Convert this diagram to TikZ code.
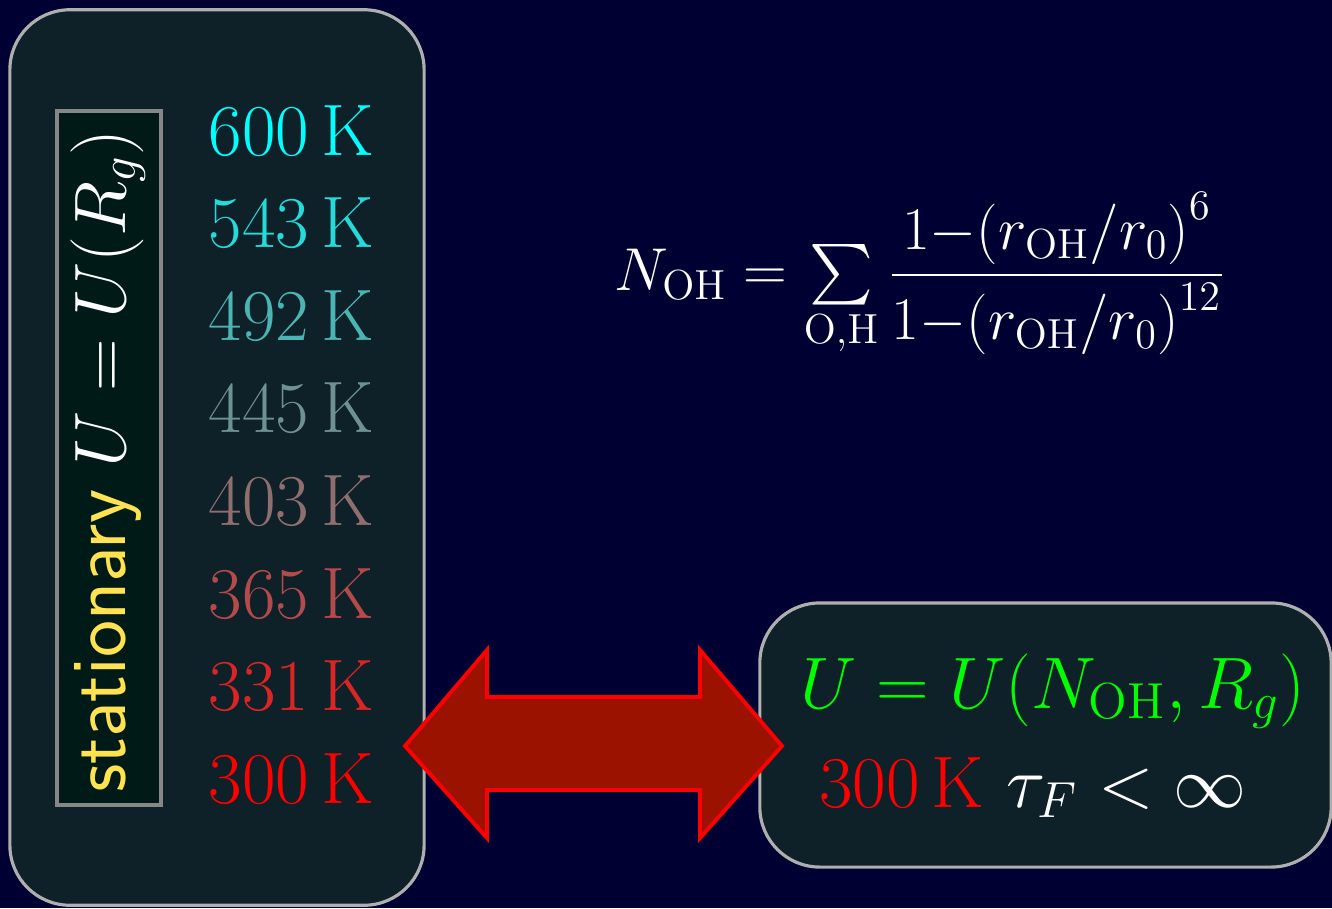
\documentclass[tikz,border=0pt]{standalone}
\usepackage{amsmath,graphicx}
\definecolor{slidebg}{RGB}{0,0,51}
\definecolor{panelfill}{RGB}{14,32,40}
\definecolor{paneledge}{RGB}{175,175,175}
\definecolor{stripfill}{RGB}{0,26,24}
\definecolor{stripedge}{RGB}{135,135,135}
\definecolor{statyellow}{RGB}{255,226,80}
\definecolor{arrowfill}{RGB}{155,18,0}
\definecolor{eqgreen}{RGB}{0,255,0}
\definecolor{hotred}{RGB}{255,0,0}
\definecolor{coldcyan}{RGB}{0,255,255}
\usetikzlibrary{positioning}
\tikzset{
  panel/.style={draw=paneledge, fill=panelfill, line width=0.9pt,
                rounded corners=0.6cm, inner sep=0pt},
  stripbox/.style={draw=stripedge, fill=stripfill, line width=1pt, inner sep=0pt},
  templabel/.style={text=#1, font=\huge, anchor=base, inner sep=0pt},
  slidetext/.style={text=white, font=\huge, anchor=base, inner sep=0pt},
  bigarrow/.style={draw=hotred, fill=arrowfill, line width=1.1pt, line join=miter},
}

\begin{document}
\begin{tikzpicture}[x=0.01cm, y=-0.01cm]
\useasboundingbox (0,0) rectangle (1332,908);
\fill[slidebg] (0,0) rectangle (1332,908);

% left panel with the temperature ladder
\node[panel, minimum width=4.14cm, minimum height=8.95cm] (tempbox) at (217,457.5) {};
\node[stripbox, minimum width=1.04cm, minimum height=6.94cm] (strip) at (109,458) {};
\node[slidetext, rotate=90] (stat) at (125,461)
     {{\fontsize{22.4}{26}\sffamily\color{statyellow}stationary} $U=U(R_g)$};

\foreach \temp/\mix [count=\i] in {600/0,543/14,492/29,445/43,403/57,365/71,331/86,300/100}
  \node[templabel=hotred!\mix!coldcyan] (t\temp) at (291.5,{155+92.6*(\i-1)}) {\temp\,K};

% coordination number
\node[slidetext] (noh) at (920,290)
     {\scalebox{0.83}{$N_{\mathrm{OH}}=\sum\limits_{\mathrm{O{,}H}}
       \dfrac{1{-}{\left(r_{\mathrm{OH}}/r_0\right)}^6}{1{-}{\left(r_{\mathrm{OH}}/r_0\right)}^{12}}$}};

% right panel
\node[panel, minimum width=5.71cm, minimum height=2.64cm] (biasbox) at (1045.5,735) {};
\node[slidetext, text=eqgreen] (ueq) at (1053,708) {$U=U(N_{\mathrm{OH}},R_g)$};
\node[slidetext] (tau) at (1033,807)
     {\textcolor{hotred}{300\,K} $\tau_F<\infty$};

% exchange arrow
\draw[bigarrow] (405,746) -- (487,650) -- (487,697) -- (700,697) -- (700,650)
      -- (782,746) -- (700,838) -- (700,790) -- (487,790) -- (487,838) -- cycle;

\end{tikzpicture}
\end{document}
